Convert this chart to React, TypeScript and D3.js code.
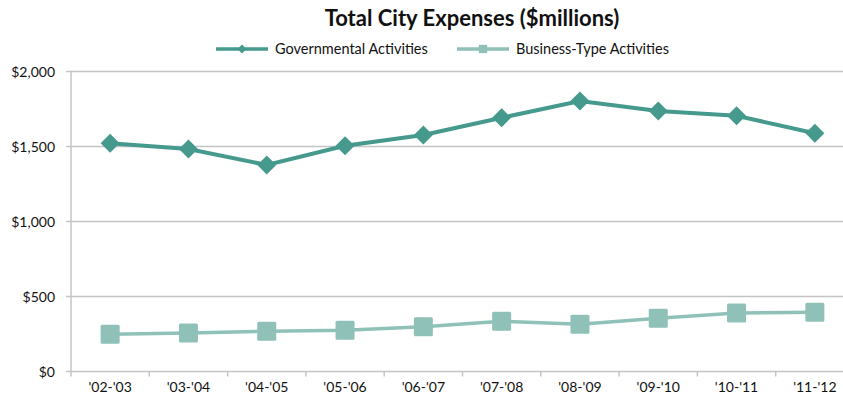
import React, { useEffect, useRef } from 'react'
import * as d3 from 'd3'

const years = ["'02-'03", "'03-'04", "'04-'05", "'05-'06", "'06-'07", "'07-'08", "'08-'09", "'09-'10", "'10-'11", "'11-'12"]
const governmental = [1521, 1483, 1377, 1505, 1577, 1692, 1803, 1737, 1705, 1588]
const businessType = [248, 256, 268, 275, 299, 335, 315, 355, 390, 395]
const yTicks = [0, 500, 1000, 1500, 2000]

const govColor = '#45998d'
const busColor = '#8fc1b9'
const gridColor = '#c4c4c4'
const font = 'Lato, "Open Sans", sans-serif'

export default function App() {
  const ref = useRef<SVGSVGElement>(null)

  useEffect(() => {
    const width = 843
    const svg = d3.select(ref.current)
    svg.selectAll('*').remove()

    /* scales */
    const x = d3.scaleBand().domain(years).range([71, 854])
    const y = d3.scaleLinear().domain([0, 2000]).range([371.5, 71.5])
    const cx = (d: string) => (x(d) as number) + x.bandwidth() / 2

    /* title */
    svg.append('text')
      .attr('x', 472).attr('y', 26)
      .attr('text-anchor', 'middle')
      .attr('font-family', font).attr('font-weight', 'bold').attr('font-size', 22)
      .attr('fill', '#111')
      .text('Total City Expenses ($millions)')

    /* gridlines */
    svg.append('g').selectAll('line')
      .data(yTicks)
      .enter().append('line')
      .attr('x1', 66).attr('x2', width)
      .attr('y1', d => y(d)).attr('y2', d => y(d))
      .attr('stroke', gridColor).attr('stroke-width', 1.5)

    /* y axis */
    svg.append('line')
      .attr('x1', 71).attr('x2', 71)
      .attr('y1', y(2000)).attr('y2', y(0))
      .attr('stroke', gridColor).attr('stroke-width', 1.5)

    svg.append('g').selectAll('text')
      .data(yTicks)
      .enter().append('text')
      .attr('x', 55).attr('y', d => y(d) + 5)
      .attr('text-anchor', 'end')
      .attr('font-family', font).attr('font-size', 14).attr('fill', '#111')
      .text(d => '$' + d3.format(',')(d))

    /* x axis ticks and labels */
    svg.append('g').selectAll('line')
      .data(years)
      .enter().append('line')
      .attr('x1', d => x(d) as number).attr('x2', d => x(d) as number)
      .attr('y1', y(0)).attr('y2', y(0) + 5)
      .attr('stroke', gridColor).attr('stroke-width', 1.5)

    svg.append('g').selectAll('text')
      .data(years)
      .enter().append('text')
      .attr('x', d => cx(d)).attr('y', 392)
      .attr('text-anchor', 'middle')
      .attr('font-family', font).attr('font-size', 14).attr('fill', '#111')
      .text(d => d)

    /* lines */
    const line = d3.line<number>()
      .x((_, i) => cx(years[i]))
      .y(d => y(d))

    svg.append('path')
      .attr('d', line(businessType))
      .attr('fill', 'none').attr('stroke', busColor).attr('stroke-width', 3.5)

    svg.append('g').selectAll('rect')
      .data(businessType)
      .enter().append('rect')
      .attr('x', (_, i) => cx(years[i]) - 9.5)
      .attr('y', d => y(d) - 9.5)
      .attr('width', 19).attr('height', 19).attr('rx', 1.5)
      .attr('fill', busColor)

    svg.append('path')
      .attr('d', line(governmental))
      .attr('fill', 'none').attr('stroke', govColor).attr('stroke-width', 4)

    const diamond = d3.symbol().type(d3.symbolDiamond2).size(230)
    svg.append('g').selectAll('path')
      .data(governmental)
      .enter().append('path')
      .attr('d', diamond)
      .attr('transform', (d, i) => `translate(${cx(years[i])},${y(d)})`)
      .attr('fill', govColor)

    /* legend */
    const legend = [
      { label: 'Governmental Activities', color: govColor, x0: 216, kind: 'diamond' },
      { label: 'Business-Type Activities', color: busColor, x0: 457, kind: 'square' },
    ]
    const lg = svg.append('g').selectAll('g')
      .data(legend)
      .enter().append('g')
      .attr('transform', d => `translate(${d.x0},49)`)
    lg.append('line')
      .attr('x1', 0).attr('x2', 52).attr('y1', 0).attr('y2', 0)
      .attr('stroke', d => d.color).attr('stroke-width', 3.5)
    lg.append('path')
      .attr('d', d => d.kind === 'diamond'
        ? d3.symbol().type(d3.symbolDiamond2).size(50)()
        : d3.symbol().type(d3.symbolSquare).size(70)())
      .attr('transform', 'translate(26,0)')
      .attr('fill', d => d.color)
    lg.append('text')
      .attr('x', 59).attr('y', 5)
      .attr('font-family', font).attr('font-size', 14.5).attr('fill', '#111')
      .text(d => d.label)
  }, [])

  return (
    <svg ref={ref} width={843} height={400}
      style={{ position: 'absolute', left: 0, top: 0, background: '#fff' }} />
  )
}
